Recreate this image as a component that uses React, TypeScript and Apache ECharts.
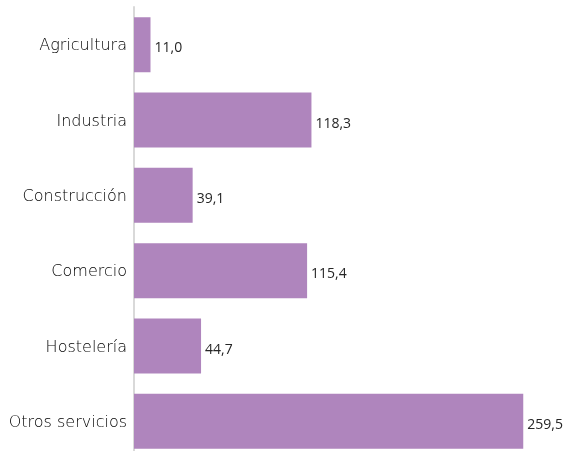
import React, { useEffect, useRef } from "react";
import * as echarts from "echarts";

const categories = ["Agricultura", "Industria", "Construcción", "Comercio", "Hostelería", "Otros servicios"];
const values = [11.0, 118.3, 39.1, 115.4, 44.7, 259.5];

export default function App() {
  const ref = useRef<HTMLDivElement>(null);
  useEffect(() => {
    if (!ref.current) return;
    const chart = echarts.init(ref.current, null, { renderer: "svg" });
    chart.setOption({
      animation: false,
      grid: { left: 134, right: 19, top: 7, height: 452, containLabel: false },
      xAxis: {
        type: "value",
        min: 0,
        max: 280,
        show: false,
      },
      yAxis: {
        type: "category",
        data: categories,
        inverse: true,
        axisLine: { show: true, lineStyle: { color: "#d9d9d9", width: 2 } },
        axisTick: { show: false },
        axisLabel: {
          color: "#000000",
          fontFamily: "DejaVu Sans",
          fontWeight: 200,
          fontSize: 16,
          margin: 7,
        },
        splitLine: { show: false },
      },
      series: [
        {
          type: "bar",
          data: values,
          barWidth: 55,
          itemStyle: { color: "#AF85BD" },
          label: {
            show: true,
            position: "right",
            distance: 4,
            offset: [0, 2],
            color: "#262626",
            fontFamily: "Open Sans",
            fontSize: 14,
            formatter: (p: any) => p.value.toFixed(1).replace(".", ","),
          },
        },
      ],
    });
    return () => chart.dispose();
  }, []);
  return (
    <div
      ref={ref}
      style={{ position: "fixed", left: 0, top: 0, width: 573, height: 470 }}
    />
  );
}
